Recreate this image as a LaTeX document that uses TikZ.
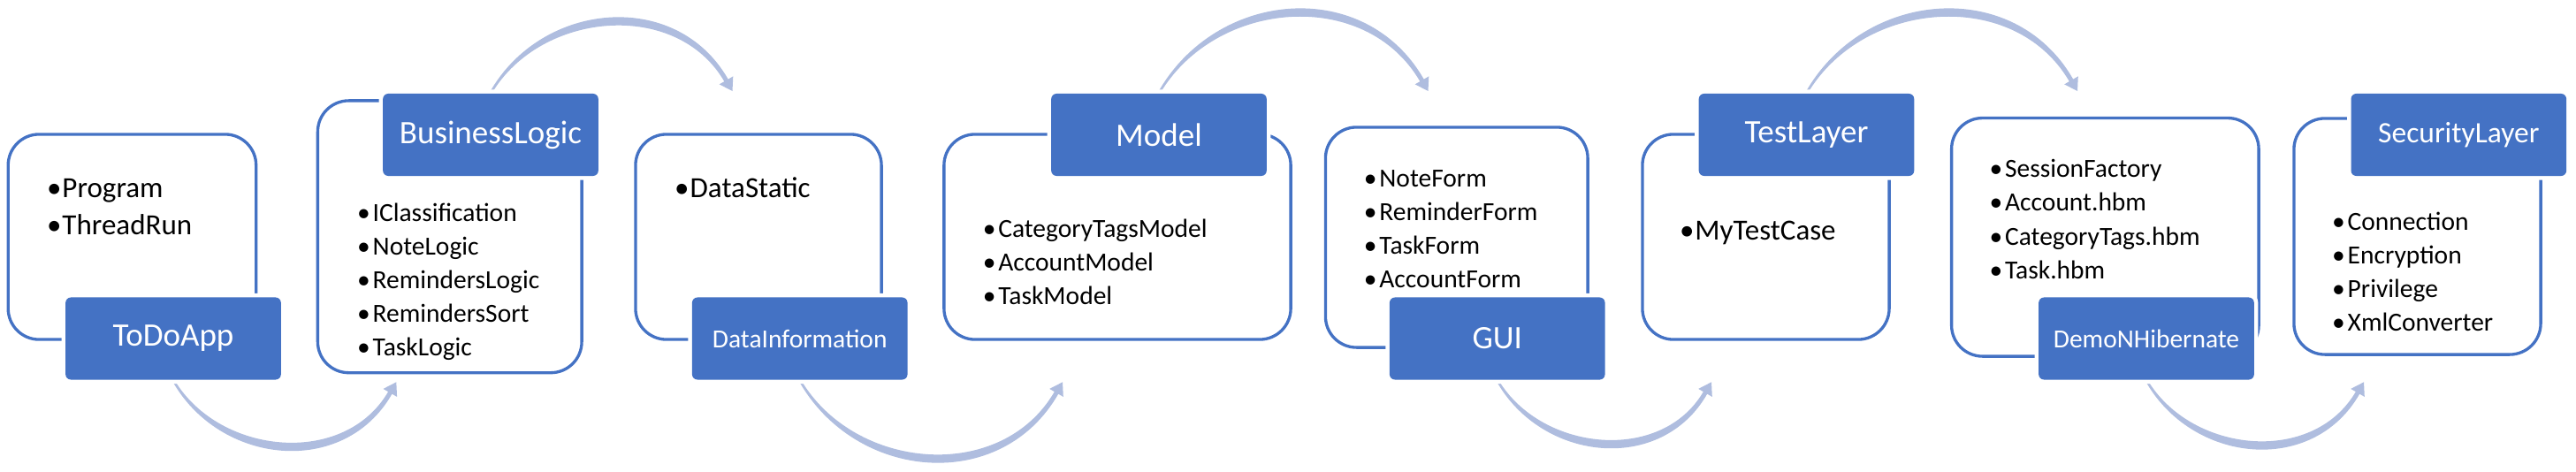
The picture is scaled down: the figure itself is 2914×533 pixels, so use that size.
\documentclass[tikz,border=0pt]{standalone}
\usepackage{fontspec}
\setmainfont{Carlito}
\usetikzlibrary{calc,backgrounds}
\definecolor{mblue}{RGB}{68,114,196}
\definecolor{arrowcol}{RGB}{175,189,223}
\newcommand\flowarc[4]{%
  \pgfmathsetmacro\fa{0.5*(#3)}%
  \pgfmathsetmacro\fb{0.866*(#3)*(#4)}%
  \pgfmathsetmacro\fh{12.12*(#4)}%
  \pgfmathsetmacro\fo{6*(#4)}%
  \pgfmathsetmacro\fon{0-6*(#4)}%
  \pgfmathsetmacro\fq{1.25*(#4)}%
  \pgfmathsetmacro\fqn{0-1.25*(#4)}%
  \pgfmathsetmacro\fr{4.5*(#4)}%
  \pgfmathsetmacro\frn{0-4.5*(#4)}%
  \coordinate (fB) at ($(#2)+(-7,\fh)$);
  \fill[arrowcol] ($(#1)+(-1.5,0)$)
    .. controls ($(#1)+(\fa,\fb)+(0,\fo)$) and ($(fB)+(-\fa,\fb)+(0,\fo)$) .. ($(fB)+(2.165,\fq)$)
    -- ($(fB)+(7.8,\fr)$) -- (#2) -- ($(fB)+(-7.8,\frn)$) -- ($(fB)+(-2.165,\fqn)$)
    .. controls ($(fB)+(-\fa,\fb)+(0,\fon)$) and ($(#1)+(\fa,\fb)+(0,\fon)$) .. ($(#1)+(1.5,0)$) -- cycle;
}
\begin{document}
\begin{tikzpicture}[x=0.01cm,y=-0.01cm,
  outl/.style={draw=mblue,line width=0.95pt,rounded corners=0.35cm,inner sep=0pt},
  lbl/.style={fill=mblue,text=white,rounded corners=0.06cm,inner sep=0pt,
    minimum width=2.435cm,minimum height=0.93cm,
    preaction={draw=white,line width=0.09cm},
    font=\fontsize{10.53pt}{12pt}\selectfont},
  lblsmall/.style={font=\fontsize{8.39pt}{10pt}\selectfont},
  lblmid/.style={font=\fontsize{9.53pt}{11pt}\selectfont},
  item/.style={anchor=base west,inner sep=0pt,text=black,font=\fontsize{8.39pt}{10pt}\selectfont},
  itembig/.style={item,font=\fontsize{9.39pt}{11pt}\selectfont}]
\useasboundingbox (0,0) rectangle (2914,533);

% label boxes
\node[lbl] (todo) at (196,383) {ToDoApp};
\node[lbl] (blogic) at (555,152.5) {BusinessLogic};
\node[lbl,lblsmall] (datainfo) at (904.75,383) {DataInformation};
\node[lbl] (model) at (1311,152.5) {Model};
\node[lbl] (gui) at (1693.75,383) {GUI};
\node[lbl] (test) at (2043.5,152.5) {TestLayer};
\node[lbl,lblsmall] (demo) at (2428,383) {DemoNHibernate};
\node[lbl,lblmid] (sec) at (2781.3,152.5) {SecurityLayer};

% items
\foreach \t [count=\i from 0] in {Program,ThreadRun}
  \node[itembig] (i1\i) at (69.8,{223+42*\i}) {\llap{•\kern0.3pt}\t};
\foreach \t [count=\i from 0] in {IClassification,NoteLogic,RemindersLogic,RemindersSort,TaskLogic}
  \node[item] (i2\i) at (421,{250+38*\i}) {\llap{•\kern0.8pt}\t};
\node[itembig] (i30) at (780,223) {\llap{•\kern0.3pt}DataStatic};
\foreach \t [count=\i from 0] in {CategoryTagsModel,AccountModel,TaskModel}
  \node[item] (i4\i) at (1128.6,{268.6+38*\i}) {\llap{•\kern0.8pt}\t};
\foreach \t [count=\i from 0] in {NoteForm,ReminderForm,TaskForm,AccountForm}
  \node[item] (i5\i) at (1559.7,{211+38.3*\i}) {\llap{•\kern0.8pt}\t};
\node[itembig] (i60) at (1916.8,271) {\llap{•\kern0.3pt}MyTestCase};
\foreach \t [count=\i from 0] in {SessionFactory,Account.hbm,CategoryTags.hbm,Task.hbm}
  \node[item] (i7\i) at (2267.4,{200.6+38.3*\i}) {\llap{•\kern0.8pt}\t};
\foreach \t [count=\i from 0] in {Connection,Encryption,Privilege,XmlConverter}
  \node[item] (i8\i) at (2655,{260+38*\i}) {\llap{•\kern0.8pt}\t};

% arrow tips
\coordinate (t1) at (448.3,432.3);
\coordinate (t2) at (828.5,103);
\coordinate (t3) at (1202,432.3);
\coordinate (t4) at (1615.5,103);
\coordinate (t5) at (1936,432.3);
\coordinate (t6) at (2350,103);
\coordinate (t7) at (2674,432.3);

\begin{pgfonlayer}{background}
  \node[outl,minimum width=2.803cm,minimum height=2.32cm] (o1) at (149.45,268) {};
  \node[outl,minimum width=2.985cm,minimum height=3.076cm] (o2) at (508.75,267.8) {};
  \node[outl,minimum width=2.78cm,minimum height=2.32cm] (o3) at (858,268) {};
  \node[outl,minimum width=3.92cm,minimum height=2.32cm] (o4) at (1264,268) {};
  \node[outl,minimum width=2.965cm,minimum height=2.49cm] (o5) at (1647.75,268.5) {};
  \node[outl,minimum width=2.79cm,minimum height=2.32cm] (o6) at (1997.5,268) {};
  \node[outl,minimum width=3.473cm,minimum height=2.694cm] (o7) at (2381.35,268.3) {};
  \node[outl,minimum width=2.79cm,minimum height=2.67cm] (o8) at (2734.5,267.5) {};
  \flowarc{todo.south}{t1}{104.4}{1}
  \flowarc{blogic.north}{t2}{113.4}{-1}
  \flowarc{datainfo.south}{t3}{125.2}{1}
  \flowarc{model.north}{t4}{128.8}{-1}
  \flowarc{gui.south}{t5}{99.8}{1}
  \flowarc{test.north}{t6}{128.8}{-1}
  \flowarc{demo.south}{t7}{102}{1}
\end{pgfonlayer}
\end{tikzpicture}
\end{document}
